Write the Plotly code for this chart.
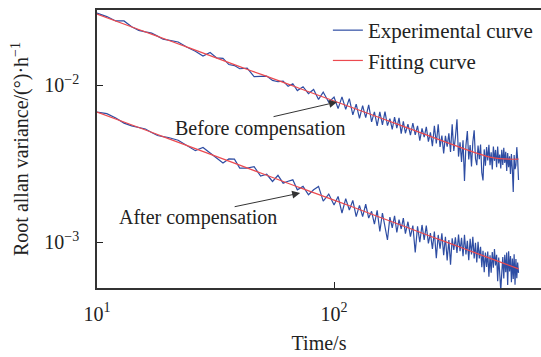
import plotly.graph_objects as go

# ---------------- data ----------------
time_s = [10, 11, 12, 13, 14, 15, 16, 17, 18, 19, 20, 22, 24, 26, 28, 30, 32, 34, 36, 38,
          40, 43, 46, 49, 52, 55, 58, 61, 64, 67, 70, 74, 78, 82, 86, 90, 95, 100,
          104, 108, 112, 116, 120, 124, 128, 132, 136, 140, 144, 148, 152, 156, 160, 164,
          168, 172, 176, 180, 184, 188, 192, 196, 200,
          205, 210, 215, 220, 225, 230, 235, 240, 245, 250, 255, 260, 265, 270, 275, 280,
          285, 290, 295, 300, 305, 310, 315, 320, 325, 330, 335, 340, 345, 350, 355, 360,
          365, 370, 375, 380, 385, 390, 395, 400, 405, 410, 415, 420, 425, 430, 435, 440,
          445, 450, 455, 460, 465, 470, 475, 480, 485, 490, 495, 500, 505, 510, 515, 520,
          525, 530, 535, 540, 545, 550, 555, 560, 565, 570, 575, 580, 585, 590, 595, 600]

before_exp = [0.0287, 0.0273, 0.0256, 0.0256, 0.0235, 0.0223, 0.0218, 0.0214, 0.0205, 0.0196,
              0.0193, 0.0188, 0.0174, 0.0164, 0.0153, 0.0161, 0.0149, 0.0148, 0.0135, 0.0133,
              0.0127, 0.0128, 0.0113, 0.0114, 0.0114, 0.0107, 0.0105, 0.0106, 0.00981, 0.0102,
              0.00922, 0.00976, 0.00882, 0.00937, 0.00810, 0.00902, 0.00777, 0.00839,
              0.00708, 0.00840, 0.00701, 0.00819, 0.00645, 0.00755, 0.00613, 0.00740, 0.00620,
              0.00748, 0.00583, 0.00675, 0.00549, 0.00675, 0.00557, 0.00676, 0.00551, 0.00611,
              0.00521, 0.00624, 0.00532, 0.00617, 0.00490, 0.00586, 0.00493,
              0.00563, 0.00479, 0.00573, 0.00482, 0.00550, 0.00443, 0.00529, 0.00466, 0.00541,
              0.00436, 0.00500, 0.00408, 0.00550, 0.00424, 0.00562, 0.00403, 0.00477, 0.00367,
              0.00474, 0.00405, 0.00493, 0.00375, 0.00562, 0.00380, 0.00464, 0.00606, 0.00350,
              0.00431, 0.00324, 0.00444, 0.00245, 0.00413, 0.00510, 0.00336, 0.00415, 0.00303,
              0.00434, 0.00514, 0.00339, 0.00309, 0.00411, 0.00337, 0.00418, 0.00276, 0.00247,
              0.00389, 0.00306, 0.00402, 0.00331, 0.00416, 0.00309, 0.00373, 0.00290, 0.00405,
              0.00329, 0.00386, 0.00300, 0.00406, 0.00317, 0.00361, 0.00294, 0.00387, 0.00310,
              0.00398, 0.00319, 0.00375, 0.00284, 0.00369, 0.00300, 0.00352, 0.00271, 0.00363,
              0.00291, 0.00208, 0.00358, 0.00291, 0.00308, 0.00402, 0.00337, 0.00248]

after_exp = [0.00673, 0.00657, 0.00616, 0.00572, 0.00549, 0.00536, 0.00525, 0.00499, 0.00477,
             0.00469, 0.00463, 0.00445, 0.00411, 0.00382, 0.00400, 0.00368, 0.00345, 0.00319,
             0.00338, 0.00337, 0.00296, 0.00296, 0.00302, 0.00263, 0.00270, 0.00243, 0.00266,
             0.00237, 0.00244, 0.00249, 0.00215, 0.00226, 0.00200, 0.00215, 0.00226, 0.00182,
             0.00202, 0.00172,
             0.00195, 0.00153, 0.00189, 0.00160, 0.00184, 0.00145, 0.00171, 0.00145, 0.00174,
             0.00142, 0.00157, 0.00130, 0.00159, 0.00117, 0.00153, 0.00126, 0.00103, 0.00144,
             0.00123, 0.00147, 0.00115, 0.00139, 0.00121, 0.00142, 0.00113,
             0.001346, 0.001081, 0.001273, 0.000858, 0.001259, 0.000998, 0.001284, 0.001032,
             0.001272, 0.000980, 0.001139, 0.000904, 0.001165, 0.000788, 0.001109, 0.000906,
             0.001135, 0.000825, 0.001081, 0.000764, 0.001030, 0.000718, 0.001057, 0.000892,
             0.001070, 0.000851, 0.001115, 0.000874, 0.001065, 0.000811, 0.001111, 0.000834,
             0.001017, 0.000765, 0.001047, 0.000834, 0.001078, 0.000786, 0.000988, 0.000742,
             0.001002, 0.000787, 0.000933, 0.000691, 0.000880, 0.000643, 0.000857, 0.000693,
             0.000870, 0.000600, 0.000822, 0.000637, 0.000862, 0.000687, 0.000902, 0.000710,
             0.000829, 0.000563, 0.000797, 0.000627, 0.000492, 0.000638, 0.000802, 0.000586,
             0.000828, 0.000642, 0.000857, 0.000533, 0.000873, 0.000648, 0.000815, 0.000554,
             0.000784, 0.000582, 0.000835, 0.000535, 0.000780, 0.000588, 0.000739, 0.000636]

fit_time = [10, 15, 20, 30, 40, 50, 70, 100, 150, 200, 250, 300, 350, 400, 450, 500, 550, 600]
before_fit = [0.0283, 0.0226, 0.0193, 0.0154, 0.0131, 0.0116, 0.00964, 0.00791, 0.00633,
              0.00539, 0.00476, 0.00430, 0.00395, 0.00368, 0.00349, 0.00340, 0.00337, 0.00337]
after_fit = [0.00673, 0.00536, 0.00456, 0.00363, 0.00309, 0.00272, 0.00225, 0.00185, 0.00147,
             0.00125, 0.00110, 0.000995, 0.000912, 0.000847, 0.000792, 0.000747, 0.000708,
             0.000674]

x_tickvals = [10, 100]
x_ticktext = ["10<sup>1</sup>", "10<sup>2</sup>"]
y_tickvals = [0.01, 0.001]
y_ticktext = ["10<sup>\u22122</sup>", "10<sup>\u22123</sup>"]

# ---------------- styles ----------------
BLUE = "#2e4da3"
RED = "#ec4a4f"
FONT = "Liberation Serif, Times New Roman, serif"

fig = go.Figure()
fig.add_trace(go.Scatter(x=time_s, y=before_exp, mode="lines", name="Experimental curve",
                         line=dict(color=BLUE, width=1.2), legendgroup="e"))
fig.add_trace(go.Scatter(x=time_s, y=after_exp, mode="lines", name="Experimental curve",
                         line=dict(color=BLUE, width=1.2), showlegend=False, legendgroup="e"))
fig.add_trace(go.Scatter(x=fit_time, y=before_fit, mode="lines", name="Fitting curve",
                         line=dict(color=RED, width=1.2, shape="spline"), legendgroup="f"))
fig.add_trace(go.Scatter(x=fit_time, y=after_fit, mode="lines", name="Fitting curve",
                         line=dict(color=RED, width=1.2, shape="spline"), showlegend=False,
                         legendgroup="f"))

fig.update_layout(
    width=541, height=357, autosize=False,
    margin=dict(l=97, r=0, t=10, b=69),
    paper_bgcolor="white", plot_bgcolor="white",
    font=dict(family=FONT, size=21, color="#222"),
    showlegend=True,
    legend=dict(x=0.52, y=1.0, xanchor="left", yanchor="top", bgcolor="rgba(0,0,0,0)",
                font=dict(size=21, family=FONT), tracegroupgap=0, itemwidth=30),
    xaxis=dict(type="log", range=[1, 2.873], tickvals=x_tickvals, ticktext=x_ticktext,
               ticks="inside", ticklen=6, tickcolor="#222", showgrid=False, zeroline=False,
               showline=True, linecolor="#333", linewidth=1.5, mirror=True,
               tickfont=dict(size=20, family=FONT), ticklabelstandoff=7,
               title=dict(text="Time/s", font=dict(size=20, family=FONT), standoff=12),
               automargin=False),
    yaxis=dict(type="log", range=[-3.293, -1.522], tickvals=y_tickvals, ticktext=y_ticktext,
               ticks="inside", ticklen=6, tickcolor="#222", showgrid=False, zeroline=False,
               showline=True, linecolor="#333", linewidth=1.5,
               tickfont=dict(size=20, family=FONT), ticklabelstandoff=12,
               title=dict(text="Root allan variance/(\u00b0)\u00b7h<sup>\u22121</sup>",
                          font=dict(size=20, family=FONT), standoff=10),
               automargin=False),
)

fig.add_annotation(x=1.688, y=-2.274, xref="x", yref="y", text="Before compensation",
                   showarrow=False, font=dict(size=20, family=FONT, color="#222"))
fig.add_annotation(x=1.426, y=-2.847, xref="x", yref="y", text="After compensation",
                   showarrow=False, font=dict(size=20, family=FONT, color="#222"))
fig.add_annotation(x=2.0127, y=-2.108, xref="x", yref="y", text="", showarrow=True,
                   ax=-65, ay=15, arrowhead=2, arrowsize=1.6, arrowwidth=1,
                   arrowcolor="#333")
fig.add_annotation(x=1.857, y=-2.688, xref="x", yref="y", text="", showarrow=True,
                   ax=-67, ay=14, arrowhead=2, arrowsize=1.6, arrowwidth=1,
                   arrowcolor="#333")

fig.write_html("out.html", config={"displayModeBar": False},
               post_script="document.body.style.margin='0';document.body.style.padding='0';")
